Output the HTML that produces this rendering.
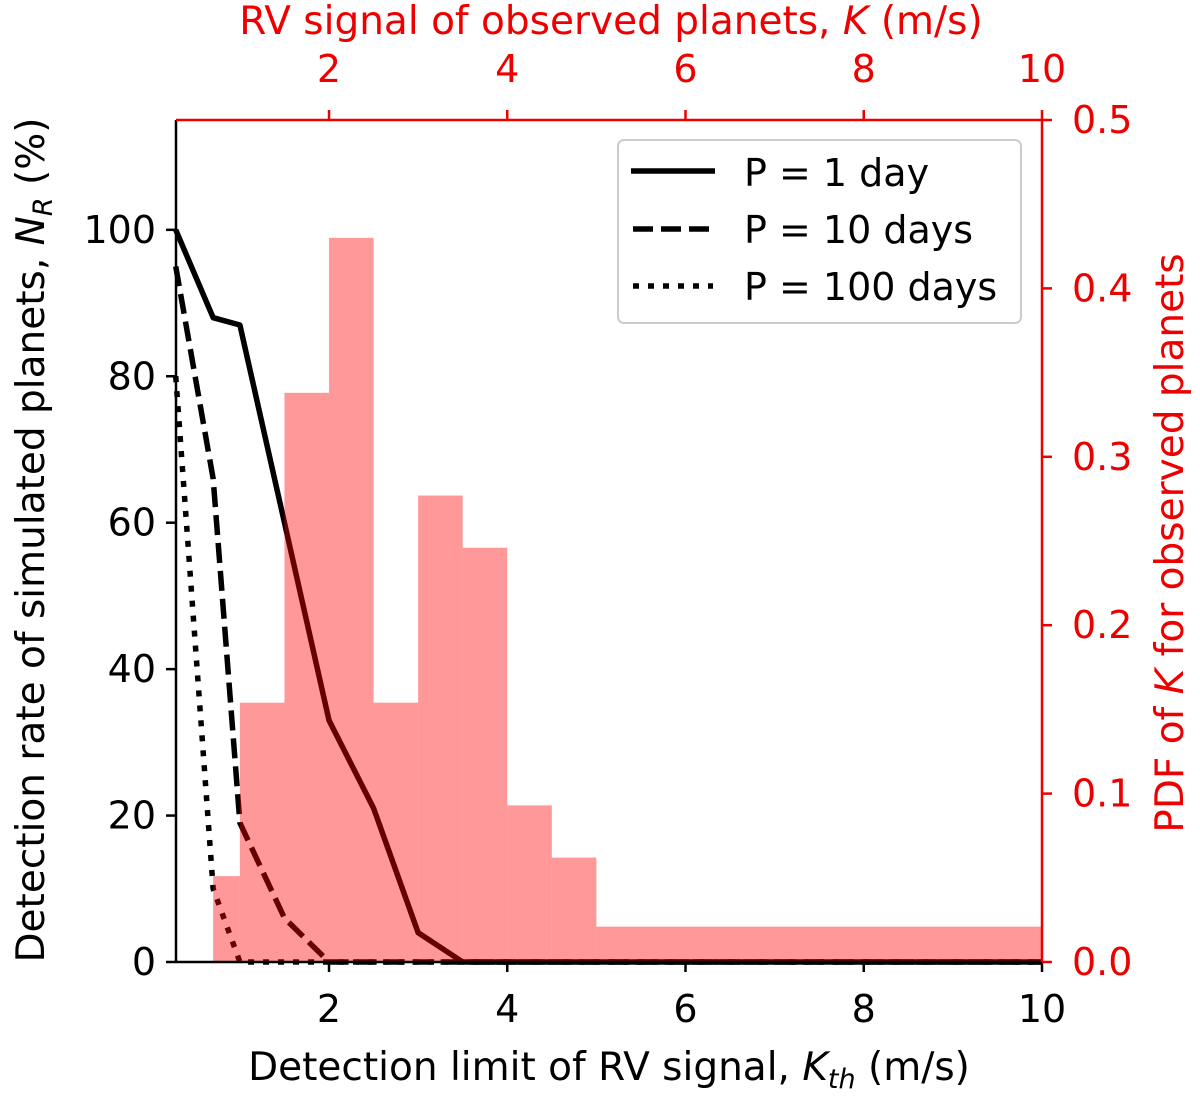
<!DOCTYPE html>
<html><head><meta charset="utf-8"><style>
body{margin:0;background:#fff;}
svg text{font-family:"DejaVu Sans","Liberation Sans",sans-serif;}
</style></head><body>
<svg id="chart" width="1200" height="1093" viewBox="0 0 1200 1093" xmlns="http://www.w3.org/2000/svg">
<g id="lines"></g>
<g id="hist"></g>
<g id="axes"></g>
<g id="legend">
  <rect x="618" y="140" width="403" height="183" rx="6" fill="#fff" fill-opacity="0.85" stroke="#ccc" stroke-width="2"/>
  <line x1="631" y1="171" x2="715" y2="171" stroke="#000" stroke-width="5.5"/>
  <text x="744" y="186" font-size="38">P = 1 day</text>
  <line x1="633" y1="229" x2="713" y2="229" stroke="#000" stroke-width="5.5" stroke-dasharray="20,8"/>
  <text x="744" y="243" font-size="38">P = 10 days</text>
  <line x1="633" y1="286" x2="713" y2="286" stroke="#000" stroke-width="5.5" stroke-dasharray="6,9"/>
  <text x="744" y="300" font-size="38">P = 100 days</text>
</g>
</svg>
<script>
const binEdges=[0.7,1.0,1.5,2.0,2.5,3.0,3.5,4.0,4.5,5.0,10];
const binPdf=[0.051,0.154,0.338,0.43,0.154,0.277,0.246,0.093,0.062,0.021];
const kth=[0.28,0.7,1.0,1.5,2.0,2.5,3.0,3.5,10];
const rate1=[100,88,87,60,33,21,4,0,0];
const kth10=[0.28,0.7,1.0,1.5,2.0,10];
const rate10=[95,66,19,6,0,0];
const kth100=[0.28,0.7,1.0,10];
const rate100=[80,10,0,0];
const xTicks=[2,4,6,8,10];
const yTicks=[0,20,40,60,80,100];
const y2Ticks=[0,0.1,0.2,0.3,0.4,0.5];

const L=176,R=1042,T=120,B=962,XMIN=0.283,XMAX=10;
const sx=v=>L+(v-XMIN)/(XMAX-XMIN)*(R-L);
const sy=v=>B-v/115*(B-T);
const sy2=v=>B-v/0.5*(B-T);
const NS='http://www.w3.org/2000/svg';
function mk(tag,parent,attrs){const e=document.createElementNS(NS,tag);for(const k in attrs)e.setAttribute(k,attrs[k]);parent.appendChild(e);return e;}
const hist=document.getElementById('hist'),lines=document.getElementById('lines'),axes=document.getElementById('axes');
binPdf.forEach((p,i)=>{
  const r=mk('rect',hist,{x:sx(binEdges[i]),y:sy2(p),width:sx(binEdges[i+1])-sx(binEdges[i]),height:B-sy2(p),fill:'#ff0000','fill-opacity':0.4});
  
  
});
function line(xs,ys,dash,name){
  const p=mk('polyline',lines,{points:xs.map((x,i)=>sx(x)+','+sy(ys[i])).join(' '),fill:'none',stroke:'#000','stroke-width':5.5,'stroke-dasharray':dash,'stroke-linejoin':'round'});
  
  
}
line(kth,rate1,'none','line-p1-day');
line(kth10,rate10,'20,8','line-p10-days');
line(kth100,rate100,'6,9','line-p100-days');
mk('line',axes,{x1:L,y1:T,x2:L,y2:B,stroke:'#000','stroke-width':2.5});
mk('line',axes,{x1:L,y1:B,x2:R,y2:B,stroke:'#000','stroke-width':2.5});
mk('line',axes,{x1:L,y1:T,x2:R,y2:T,stroke:'#e00','stroke-width':2.5});
mk('line',axes,{x1:R,y1:T,x2:R,y2:B,stroke:'#e00','stroke-width':2.5});
xTicks.forEach(v=>{
  const x=sx(v);
  mk('line',axes,{x1:x,y1:B,x2:x,y2:B+10,stroke:'#000','stroke-width':2.5});
  const t=mk('text',axes,{x:x,y:B+60,'font-size':38,'text-anchor':'middle'});t.textContent=v;
  
  
  mk('line',axes,{x1:x,y1:T,x2:x,y2:T-10,stroke:'#e00','stroke-width':2.5});
  const t2=mk('text',axes,{x:x,y:T-38,'font-size':38,'text-anchor':'middle',fill:'#e00'});t2.textContent=v;
  
  
});
yTicks.forEach(v=>{
  const y=sy(v);
  mk('line',axes,{x1:L,y1:y,x2:L-10,y2:y,stroke:'#000','stroke-width':2.5});
  const t=mk('text',axes,{x:L-20,y:y+13,'font-size':38,'text-anchor':'end'});t.textContent=v;
  
  
});
y2Ticks.forEach(v=>{
  const y=sy2(v);
  mk('line',axes,{x1:R,y1:y,x2:R+10,y2:y,stroke:'#e00','stroke-width':2.5});
  const t=mk('text',axes,{x:R+30,y:y+13,'font-size':38,fill:'#e00'});t.textContent=v.toFixed(1);
  
  
});
</script>
<svg style="position:absolute;left:0;top:0" width="1200" height="1093">
<text x="609" y="1080" font-size="39" text-anchor="middle">Detection limit of RV signal, <tspan font-style="italic">K</tspan><tspan font-style="italic" font-size="27" dy="8">th</tspan><tspan dy="-8"> (m/s)</tspan></text>
<text x="611" y="34" font-size="39" text-anchor="middle" fill="#e00">RV signal of observed planets, <tspan font-style="italic">K</tspan> (m/s)</text>
<text transform="translate(44,540) rotate(-90)" font-size="39" text-anchor="middle">Detection rate of simulated planets, <tspan font-style="italic">N</tspan><tspan font-style="italic" font-size="27" dy="8">R</tspan><tspan dy="-8"> (%)</tspan></text>
<text transform="translate(1183,543) rotate(-90)" font-size="39" text-anchor="middle" fill="#e00">PDF of <tspan font-style="italic">K</tspan> for observed planets</text>
</svg>
</body></html>
